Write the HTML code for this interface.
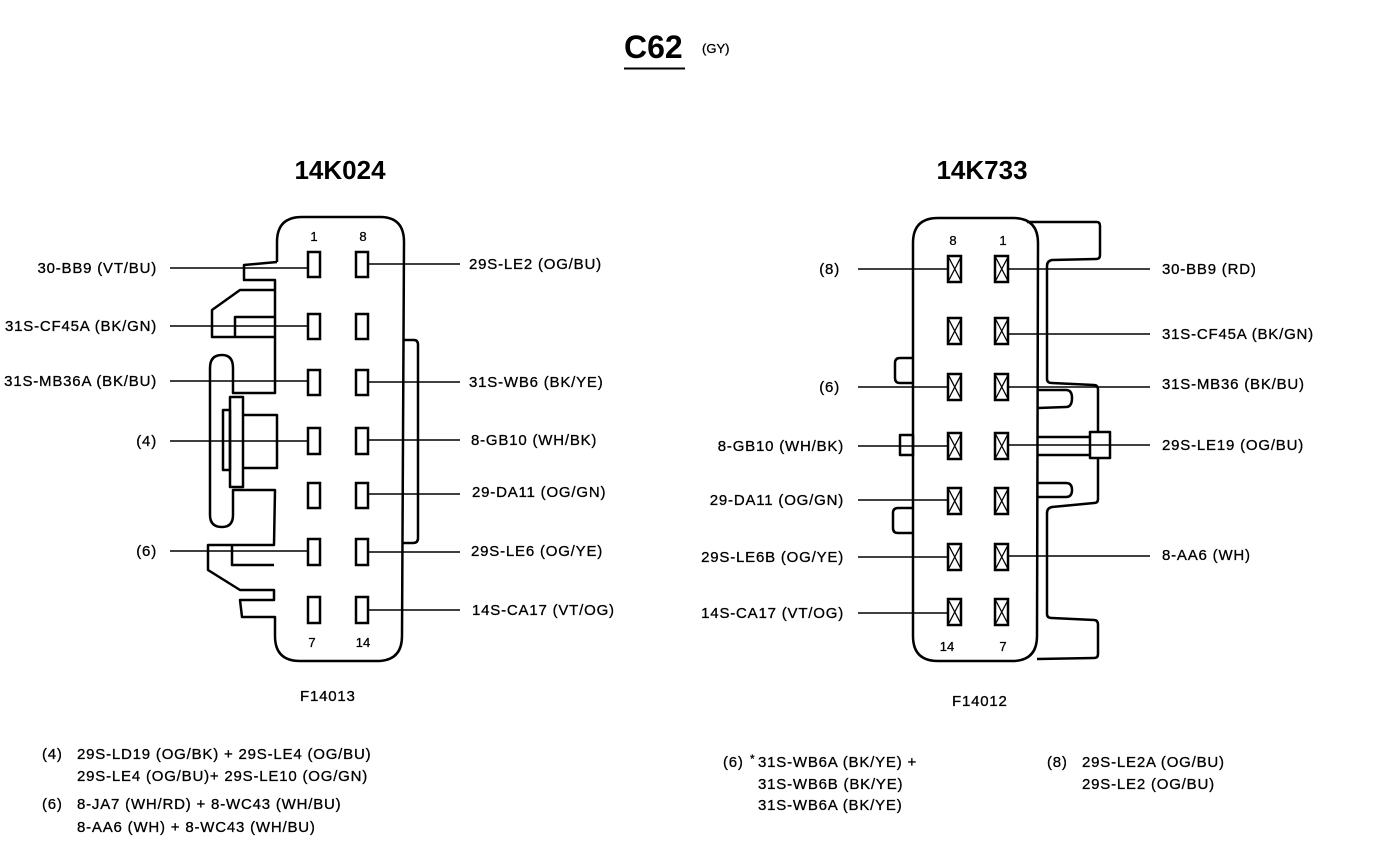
<!DOCTYPE html>
<html><head><meta charset="utf-8"><style>
html,body{margin:0;padding:0;background:#fff;}
svg{display:block;}
text{font-family:"Liberation Sans",Arial,sans-serif;fill:#000;}
.l{font-size:15px;letter-spacing:0.8px;stroke:#000;stroke-width:0.3px;}
.s{font-size:13px;stroke:#000;stroke-width:0.3px;}
</style></head><body>
<svg width="1376" height="862" viewBox="0 0 1376 862" xmlns="http://www.w3.org/2000/svg">
<g>
<text x="624" y="58" font-size="32" font-weight="bold">C62</text>
<line x1="624" y1="68.5" x2="685" y2="68.5" stroke="#000" stroke-width="2"/>
<text x="702" y="53" class="s">(GY)</text>
<text x="340" y="179" font-size="26" font-weight="bold" text-anchor="middle">14K024</text>
<text x="982" y="179" font-size="26" font-weight="bold" text-anchor="middle">14K733</text>
</g>

<!-- LEFT CONNECTOR -->
<g fill="none" stroke="#000" stroke-width="2.5" stroke-linejoin="round">
<path d="M277,262 L277,242 Q277,217 302,217 L380,217 Q404,217 404,242 L402,636 Q402,661 377,661 L300,661 Q275,661 275,636 L275,617 L242,617 L240,600 L274,600 L274,590 L240,590 L208,570 L208,545 L274,545 L275,490 L233,490 L233,515 Q233,527 222,527 Q210,527 210,515 L210,368 Q210,355 222,355 Q233,355 233,368 L233,393 L275,393 L275,280 L244,280 L244,265 L277,262"/>
<path d="M275,290 L240,290 L212,310 L212,337 L275,337"/>
<path d="M235,337 L235,317 L275,317"/>
<path d="M232,545 L232,565 L274,565"/>
<rect x="230" y="397" width="13" height="90"/>
<rect x="223" y="410" width="7" height="60"/>
<path d="M243,415 L277,415 L277,468 L243,468"/>
<path d="M403,340 L414,340 Q418,340 418,345 L418,538 Q418,543 413,543 L403,543"/>
</g>
<g fill="#fff" stroke="#000" stroke-width="2.5">
<rect x="308" y="252" width="12" height="25"/><rect x="356" y="252" width="12" height="25"/>
<rect x="308" y="314" width="12" height="25"/><rect x="356" y="314" width="12" height="25"/>
<rect x="308" y="370" width="12" height="25"/><rect x="356" y="370" width="12" height="25"/>
<rect x="308" y="428" width="12" height="26"/><rect x="356" y="428" width="12" height="26"/>
<rect x="308" y="483" width="12" height="25"/><rect x="356" y="483" width="12" height="25"/>
<rect x="308" y="539" width="12" height="26"/><rect x="356" y="539" width="12" height="26"/>
<rect x="308" y="597" width="12" height="26"/><rect x="356" y="597" width="12" height="26"/>
</g>
<g stroke="#000" stroke-width="1.5">
<line x1="170" y1="268" x2="308" y2="268"/>
<line x1="170" y1="326" x2="308" y2="326"/>
<line x1="170" y1="381" x2="308" y2="381"/>
<line x1="170" y1="441" x2="308" y2="441"/>
<line x1="170" y1="551" x2="308" y2="551"/>
<line x1="368" y1="264" x2="460" y2="264"/>
<line x1="368" y1="382" x2="460" y2="382"/>
<line x1="368" y1="440" x2="460" y2="440"/>
<line x1="368" y1="494" x2="460" y2="494"/>
<line x1="368" y1="552" x2="460" y2="552"/>
<line x1="368" y1="610" x2="460" y2="610"/>
</g>
<g class="s">
<text x="314" y="241" text-anchor="middle">1</text>
<text x="363" y="241" text-anchor="middle">8</text>
<text x="312" y="647" text-anchor="middle">7</text>
<text x="363" y="647" text-anchor="middle">14</text>
</g>
<g class="l" text-anchor="end">
<text x="157" y="273">30-BB9 (VT/BU)</text>
<text x="157" y="331">31S-CF45A (BK/GN)</text>
<text x="157" y="386">31S-MB36A (BK/BU)</text>
<text x="157" y="446">(4)</text>
<text x="157" y="556">(6)</text>
</g>
<g class="l">
<text x="469" y="269">29S-LE2 (OG/BU)</text>
<text x="469" y="387">31S-WB6 (BK/YE)</text>
<text x="471" y="445">8-GB10 (WH/BK)</text>
<text x="472" y="497">29-DA11 (OG/GN)</text>
<text x="471" y="556">29S-LE6 (OG/YE)</text>
<text x="472" y="615">14S-CA17 (VT/OG)</text>
<text x="300" y="701">F14013</text>
</g>

<!-- RIGHT CONNECTOR -->
<g fill="none" stroke="#000" stroke-width="2.5" stroke-linejoin="round">
<path d="M938,218 L1013,218 Q1038,218 1038,243 L1037,636 Q1037,661 1012,661 L938,661 Q913,661 913,636 L913,243 Q913,218 938,218 Z"/>
<path d="M1027,222 L1097,222 Q1100,222 1100,226 L1100,255 Q1100,259 1096,259 L1052,260 Q1047,261 1047,266 L1047,379 Q1047,383 1052,383 L1094,385 Q1098,385 1098,390 L1098,432"/>
<path d="M1098,458 L1098,499 Q1098,503 1094,503 L1052,507 Q1047,508 1047,513 L1047,614 Q1047,618 1052,618 L1094,620 Q1098,620 1098,625 L1098,654 Q1098,658 1094,658 L1037,659"/>
<rect x="1090" y="432" width="20" height="26"/>
<path d="M1038,390 L1066,390 Q1072,390 1072,398 Q1072,407 1066,407 L1038,408"/>
<path d="M1038,483 L1066,483 Q1072,483 1072,490 Q1072,497 1066,497 L1038,497"/>
<line x1="1038" y1="437" x2="1090" y2="437"/>
<line x1="1038" y1="455" x2="1090" y2="455"/>
<path d="M913,358 L900,358 Q895,358 895,363 L895,378 Q895,383 900,383 L913,383"/>
<rect x="900" y="435" width="13" height="20"/>
<path d="M913,508 L898,508 Q893,508 893,513 L893,528 Q893,533 898,533 L913,533"/>
</g>
<g fill="#fff" stroke="#000" stroke-width="2.5">
<g id="p"><rect x="948" y="256" width="13" height="26"/><path d="M948.5,257 L961,281 M961,257 L948.5,281" stroke-width="1.3"/></g>
</g>
<g fill="#fff" stroke="#000" stroke-width="2.5">
<use href="#p" x="47" y="0"/>
<use href="#p" x="0" y="62"/><use href="#p" x="47" y="62"/>
<use href="#p" x="0" y="118"/><use href="#p" x="47" y="118"/>
<use href="#p" x="0" y="177"/><use href="#p" x="47" y="177"/>
<use href="#p" x="0" y="232"/><use href="#p" x="47" y="232"/>
<use href="#p" x="0" y="288"/><use href="#p" x="47" y="288"/>
<use href="#p" x="0" y="343"/><use href="#p" x="47" y="343"/>
</g>
<g stroke="#000" stroke-width="1.5">
<line x1="858" y1="269" x2="948" y2="269"/>
<line x1="858" y1="387" x2="948" y2="387"/>
<line x1="858" y1="446" x2="948" y2="446"/>
<line x1="858" y1="500" x2="948" y2="500"/>
<line x1="858" y1="557" x2="948" y2="557"/>
<line x1="858" y1="613" x2="948" y2="613"/>
<line x1="1008" y1="269" x2="1150" y2="269"/>
<line x1="1008" y1="334" x2="1150" y2="334"/>
<line x1="1008" y1="387" x2="1150" y2="387"/>
<line x1="1008" y1="445" x2="1150" y2="445"/>
<line x1="1008" y1="556" x2="1150" y2="556"/>
</g>
<g class="s">
<text x="953" y="245" text-anchor="middle">8</text>
<text x="1003" y="245" text-anchor="middle">1</text>
<text x="947" y="651" text-anchor="middle">14</text>
<text x="1003" y="651" text-anchor="middle">7</text>
</g>
<g class="l" text-anchor="end">
<text x="840" y="274">(8)</text>
<text x="840" y="392">(6)</text>
<text x="844" y="451">8-GB10 (WH/BK)</text>
<text x="844" y="505">29-DA11 (OG/GN)</text>
<text x="844" y="562">29S-LE6B (OG/YE)</text>
<text x="844" y="618">14S-CA17 (VT/OG)</text>
</g>
<g class="l">
<text x="1162" y="274">30-BB9 (RD)</text>
<text x="1162" y="339">31S-CF45A (BK/GN)</text>
<text x="1162" y="389">31S-MB36 (BK/BU)</text>
<text x="1162" y="450">29S-LE19 (OG/BU)</text>
<text x="1162" y="560">8-AA6 (WH)</text>
<text x="952" y="706">F14012</text>
</g>

<!-- FOOTNOTES -->
<g class="l">
<text x="42" y="759">(4)</text>
<text x="77" y="759">29S-LD19 (OG/BK) + 29S-LE4 (OG/BU)</text>
<text x="77" y="781">29S-LE4 (OG/BU)+ 29S-LE10 (OG/GN)</text>
<text x="42" y="809">(6)</text>
<text x="77" y="809">8-JA7 (WH/RD) + 8-WC43 (WH/BU)</text>
<text x="77" y="832">8-AA6 (WH) + 8-WC43 (WH/BU)</text>
<text x="723" y="767">(6)</text>
<text x="750" y="763" font-size="12">*</text>
<text x="758" y="767">31S-WB6A (BK/YE) +</text>
<text x="758" y="789">31S-WB6B (BK/YE)</text>
<text x="758" y="810">31S-WB6A (BK/YE)</text>
<text x="1047" y="767">(8)</text>
<text x="1082" y="767">29S-LE2A (OG/BU)</text>
<text x="1082" y="789">29S-LE2 (OG/BU)</text>
</g>
</svg>
</body></html>
